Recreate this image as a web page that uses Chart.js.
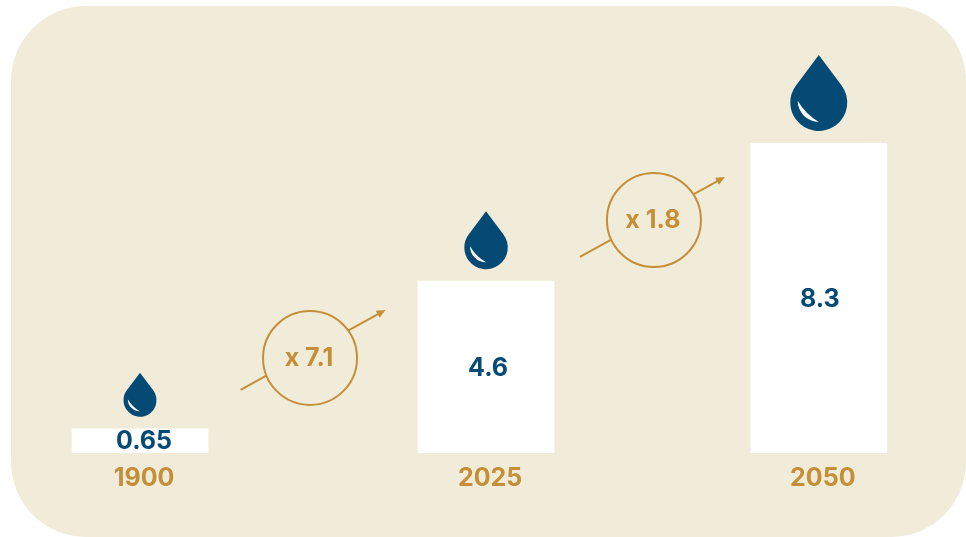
<!DOCTYPE html>
<html>
<head>
<meta charset="utf-8">
<title>Water</title>
<script src="https://cdn.jsdelivr.net/npm/chart.js@4"></script>
<style>
  html, body { margin: 0; background: #fff; overflow: hidden; }
  #panel { position: absolute; left: 11px; top: 6px; width: 955px; height: 531px; border-radius: 75px; background: #f1ecd9; }
  canvas { position: absolute; left: 0; top: 0; }
</style>
</head>
<body>
<div id="panel"></div>
<canvas id="waterChart" width="966" height="537"></canvas>
<script>
const years = ['1900', '2025', '2050'];
const volumes = [0.65, 4.6, 8.3];
const growthLabels = ['x 7.1', 'x 1.8'];
const growthLevels = [2.76, 6.32];

// years are not evenly placed along the axis
const slots = [0, 26, 51];
const dropSizes = [44, 58, 76];

const blue = '#054a74';
const gold = '#c48f37';
const panel = '#f1ecd9';
const fontFamily = 'Inter, "Noto Sans", sans-serif';

function drawDrop(ctx, x, bottom, h) {
  const r = h * 0.375;
  const cy = bottom - r;
  const tilt = Math.acos(r / (h - r));
  ctx.save();
  ctx.fillStyle = blue;
  ctx.beginPath();
  ctx.moveTo(x, bottom - h);
  ctx.arc(x, cy, r, -Math.PI / 2 + tilt, -Math.PI / 2 - tilt);
  ctx.closePath();
  ctx.fill();
  // highlight
  const hr = r * 0.74;
  const hy = cy - r * 0.06;
  ctx.fillStyle = '#fff';
  ctx.beginPath();
  ctx.arc(x, hy, hr, Math.PI, Math.PI / 2, true);
  ctx.quadraticCurveTo(x - r * 0.47, hy + r * 0.47, x - hr, hy);
  ctx.closePath();
  ctx.fill();
  ctx.restore();
}

const barExtras = {
  id: 'barExtras',
  afterDatasetsDraw(chart) {
    const ctx = chart.ctx;
    const shifts = [4, 2, 1];
    chart.getDatasetMeta(0).data.forEach((bar, i) => {
      drawDrop(ctx, bar.x, bar.y - 12, dropSizes[i]);
      ctx.save();
      ctx.fillStyle = blue;
      ctx.font = '700 25px ' + fontFamily;
      ctx.textAlign = 'center';
      ctx.textBaseline = 'middle';
      ctx.fillText(volumes[i], bar.x + shifts[i], (bar.y + bar.base) / 2 + 1);
      ctx.restore();
    });
  }
};

const growthArrows = {
  id: 'growthArrows',
  afterDatasetsDraw(chart) {
    const ctx = chart.ctx;
    const bars = chart.getDatasetMeta(0).data;
    const nudges = [[-3, 8], [1.5, 3]];
    growthLabels.forEach((label, i) => {
      const mx = (bars[i].x + bars[i + 1].x) / 2;
      const my = chart.scales.y.getPixelForValue(growthLevels[i]);
      const x0 = mx - 72.5, y0 = my + 40, x1 = mx + 72.5, y1 = my - 40;
      const cx = mx + nudges[i][0], cy = my + nudges[i][1];
      const angle = Math.atan2(y1 - y0, x1 - x0);
      ctx.save();
      ctx.strokeStyle = gold;
      ctx.fillStyle = gold;
      ctx.lineWidth = 2;
      ctx.beginPath();
      ctx.moveTo(x0, y0);
      ctx.lineTo(x1 - 6 * Math.cos(angle), y1 - 6 * Math.sin(angle));
      ctx.stroke();
      ctx.translate(x1, y1);
      ctx.rotate(angle);
      ctx.beginPath();
      ctx.moveTo(0, 0);
      ctx.lineTo(-9, -4);
      ctx.lineTo(-9, 4);
      ctx.closePath();
      ctx.fill();
      ctx.setTransform(1, 0, 0, 1, 0, 0);
      ctx.fillStyle = panel;
      ctx.beginPath();
      ctx.arc(cx, cy, 47, 0, Math.PI * 2);
      ctx.fill();
      ctx.stroke();
      ctx.fillStyle = gold;
      ctx.font = '700 25px ' + fontFamily;
      ctx.textAlign = 'center';
      ctx.textBaseline = 'middle';
      ctx.fillText(label, cx - 1, cy + 1);
      ctx.restore();
    });
  }
};

new Chart(document.getElementById('waterChart'), {
  type: 'bar',
  data: {
    labels: years,
    datasets: [{
      data: volumes.map((v, i) => ({ x: slots[i], y: v })),
      backgroundColor: '#fff',
      barThickness: 136
    }]
  },
  options: {
    responsive: false,
    animation: false,
    layout: { padding: { top: 143, bottom: 42 } },
    plugins: { legend: { display: false }, tooltip: { enabled: false } },
    scales: {
      x: {
        type: 'linear',
        offset: false,
        min: -10.52,
        max: 62.06,
        grid: { display: false },
        border: { display: false },
        afterBuildTicks(scale) {
          scale.ticks = slots.map(value => ({ value }));
        },
        ticks: {
          autoSkip: false,
          maxRotation: 0,
          labelOffset: 4,
          padding: 2,
          color: gold,
          font: { family: fontFamily, size: 25, weight: '700' },
          callback: value => years[slots.indexOf(value)]
        }
      },
      y: { display: false, min: 0, max: 8.3 }
    }
  },
  plugins: [barExtras, growthArrows]
});
</script>
</body>
</html>
